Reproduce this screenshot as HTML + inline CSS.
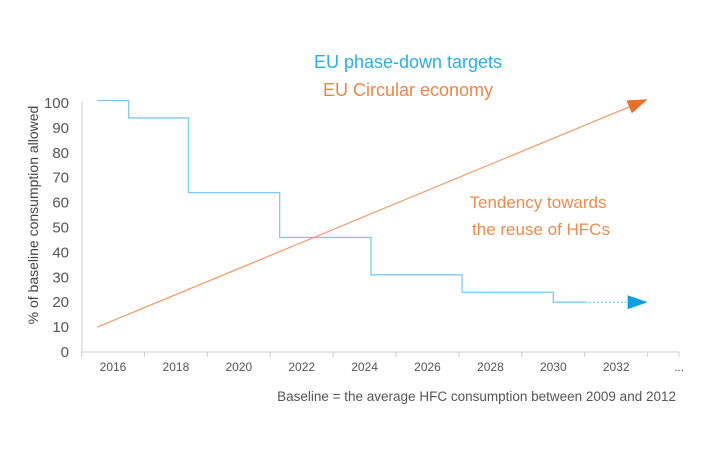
<!DOCTYPE html>
<html><head><meta charset="utf-8"><style>
body{margin:0;background:#fff;}
svg{display:block;font-family:"Liberation Sans",sans-serif;}
</style></head><body>
<svg id="chart" width="710" height="460">
<text x="408" y="68" text-anchor="middle" font-size="18" fill="#2ab0e4" font-weight="300">EU phase-down targets</text>
<text x="408" y="96" text-anchor="middle" font-size="18" fill="#ef8546" font-weight="300">EU Circular economy</text>
<text x="538" y="208" text-anchor="middle" font-size="17" fill="#ef8a4e" font-weight="300">Tendency towards</text>
<text x="541" y="235" text-anchor="middle" font-size="17" fill="#ef8a4e" font-weight="300">the reuse of HFCs</text>
<text x="676" y="401" text-anchor="end" font-size="13.5" fill="#555">Baseline = the average HFC consumption between 2009 and 2012</text>
<text transform="translate(38,215) rotate(-90)" text-anchor="middle" font-size="14" fill="#444">% of baseline consumption allowed</text>
<g id="axes"></g>
<g id="marks"></g>
</svg>
<script>
const yTicks=[0,10,20,30,40,50,60,70,80,90,100];
const xLabels=["2016","2018","2020","2022","2024","2026","2028","2030","2032","..."];
const stepYears=[2015.5,2016.5,2018.4,2021.3,2024.2,2027.1,2030.0,2031.0];
const stepValues=[101,94,64,46,31,24,20,20];
const projYears=[2031.0,2033];
const projValues=[20,20];
const circYears=[2015.5,2033];
const circValues=[10,101.5];
const NS="http://www.w3.org/2000/svg";
const x=yr=>113+(yr-2016)*31.45;
const y=v=>352-v*2.49;
function mk(tag,attrs,parent){const e=document.createElementNS(NS,tag);for(const k in attrs)e.setAttribute(k,attrs[k]);parent.appendChild(e);return e;}
const ax=document.getElementById('axes'),mg=document.getElementById('marks');
let l=mk('line',{x1:82,y1:352,x2:82,y2:102,stroke:'#ccc','stroke-width':1},ax);


l=mk('line',{x1:82,y1:352,x2:679,y2:352,stroke:'#ccc','stroke-width':1},ax);


yTicks.forEach(v=>{const t=mk('text',{x:69,y:y(v)+5,'text-anchor':'end','font-size':15,fill:'#555'},ax);t.textContent=v;

});
xLabels.forEach((s,i)=>{const cx=x(2016+2*i);const t=mk('text',{x:cx,y:371,'text-anchor':'middle','font-size':12,fill:'#555'},ax);t.textContent=s;


const tk=mk('line',{x1:cx-31.45,y1:352,x2:cx-31.45,y2:357,stroke:'#ccc'},ax);

});
const tk=mk('line',{x1:679,y1:352,x2:679,y2:357,stroke:'#ccc'},ax);


let d='M'+x(stepYears[0])+','+y(stepValues[0]);
for(let i=1;i<stepYears.length;i++){d+=' L'+x(stepYears[i])+','+y(stepValues[i-1])+' L'+x(stepYears[i])+','+y(stepValues[i]);}
const sp=mk('path',{d:d,fill:'none',stroke:'#7ccbee','stroke-width':1.3},mg);


const px2=x(projYears[1]),py=y(projValues[1]);
const pl=mk('line',{x1:x(projYears[0]),y1:y(projValues[0]),x2:px2-20,y2:py,stroke:'#5bb8e8','stroke-width':1,'stroke-dasharray':'2,2'},mg);


const ba=mk('polygon',{points:`${px2},${py} ${px2-20},${py-7} ${px2-20},${py+7}`,fill:'#0a9fe0'},mg);


const cx1=x(circYears[0]),cy1=y(circValues[0]),cx2=x(circYears[1]),cy2=y(circValues[1]);
const ang=Math.atan2(cy2-cy1,cx2-cx1);
const bx=cx2-20*Math.cos(ang),by=cy2-20*Math.sin(ang);
const cl=mk('line',{x1:cx1,y1:cy1,x2:bx,y2:by,stroke:'#f39a65','stroke-width':1.2},mg);


const nx=-Math.sin(ang)*7,ny=Math.cos(ang)*7;
const oa=mk('polygon',{points:`${cx2},${cy2} ${bx+nx},${by+ny} ${bx-nx},${by-ny}`,fill:'#e8702a'},mg);


</script>
</body></html>
